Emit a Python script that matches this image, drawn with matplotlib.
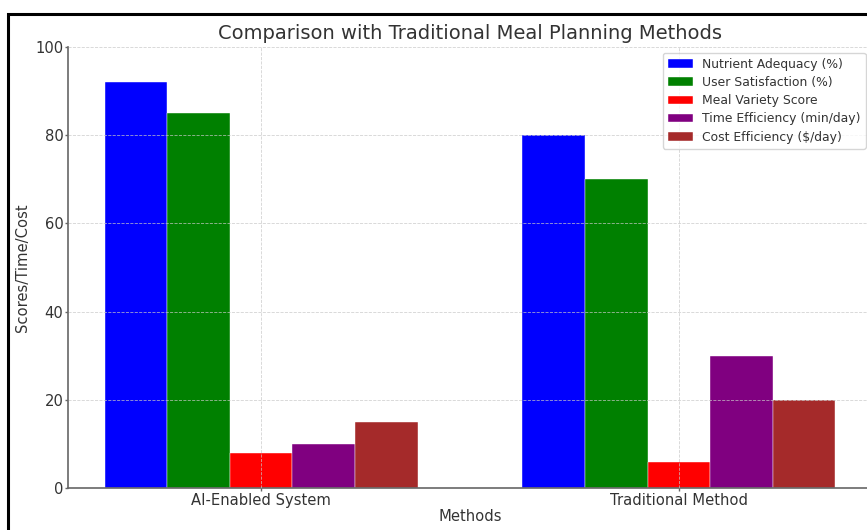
import numpy as np
import matplotlib
matplotlib.use("Agg")
import matplotlib.pyplot as plt
from matplotlib.patches import Rectangle

methods = ["AI-Enabled System", "Traditional Method"]
metrics = ["Nutrient Adequacy (%)", "User Satisfaction (%)", "Meal Variety Score",
           "Time Efficiency (min/day)", "Cost Efficiency ($/day)"]
nutrient = [92, 80]
satisfaction = [85, 70]
variety = [8, 6]
time_eff = [10, 30]
cost_eff = [15, 20]
colors = ["blue", "green", "red", "purple", "brown"]

series = [nutrient, satisfaction, variety, time_eff, cost_eff]

fig = plt.figure(figsize=(8.67, 5.30), dpi=100)
ax = fig.add_axes([0.0784, 0.0792, 0.9274, 0.8321])

txt = "#333333"
x = np.arange(len(methods))
w = 0.15
for i, (vals, lab, c) in enumerate(zip(series, metrics, colors)):
    ax.bar(x + (i - 2) * w, vals, w, label=lab, color=c, edgecolor="white", linewidth=0.3)

ax.set_ylim(0, 100)
ax.set_xticks(x)
ax.set_xticklabels(methods)
ax.tick_params(length=2.2, width=1, pad=1.2, color="#666666", labelsize=10.6, labelcolor=txt)
ax.set_xlabel("Methods", fontsize=10.6, color=txt, labelpad=1)
ax.set_ylabel("Scores/Time/Cost", fontsize=10.6, color=txt, labelpad=4)
ax.set_title("Comparison with Traditional Meal Planning Methods", fontsize=14, color=txt, pad=6)

for s in ["top", "right"]:
    ax.spines[s].set_visible(False)
for s in ["left", "bottom"]:
    ax.spines[s].set_color("#666666")
    ax.spines[s].set_linewidth(1.2)

ax.grid(True, linestyle="--", color="#c8c8c8", linewidth=0.6, alpha=0.8)
ax.set_axisbelow(False)

leg = ax.legend(loc="upper right", fontsize=8.9, frameon=True, framealpha=0.8,
                bbox_to_anchor=(0.997, 0.995), borderaxespad=0.3, labelspacing=0.42)
for t in leg.get_texts():
    t.set_color(txt)

# outer frame
fig.patches.append(Rectangle((8 / 867, -0.1), 1.2, 0.1 + 1 - 14 / 530, transform=fig.transFigure,
                             fill=False, edgecolor="black", linewidth=2.2))

fig.savefig("out.png", dpi=100)
